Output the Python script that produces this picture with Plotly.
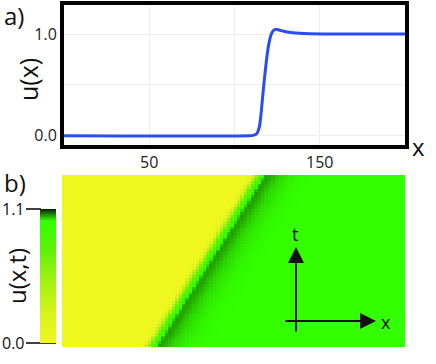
import numpy as np
import plotly.graph_objects as go

# profile u(x) at the final time (panel a)
x_prof = [0, 108, 111, 113, 114.6, 115.6, 116.6, 117.6, 118.6, 119.6, 120.6, 121.6,
          122.6, 123.8, 126, 129, 132, 138, 144, 160, 200]
u_prof = [0, 0, 0.005, 0.02, 0.09, 0.22, 0.40, 0.57, 0.72, 0.85, 0.94, 1.0,
          1.03, 1.046, 1.04, 1.027, 1.017, 1.008, 1.003, 1.0, 1.0]

# front position (mid-rise) at first and last time (panel b)
front_t = [0.0, 1.0]
front_x = [51.0, 113.0]

n_x, n_t = 100, 60
x_cells = np.linspace(1, 199, n_x)
t_cells = np.linspace(0, 1, n_t)

# build the space-time table by shifting the profile along the front
shift = np.interp(t_cells, front_t, front_x) - 117.5
z = np.array([np.interp(x_cells - s, x_prof, u_prof) for s in shift])

cscale = [[0.0, "#eef81e"], [0.2, "#d8f41c"], [0.45, "#a6f214"], [0.7, "#5ef208"],
          [0.88, "#38fc00"], [0.91, "#33ff00"], [0.95, "#22a000"], [1.0, "#0b1a06"]]

W, H = 436, 364
def px(v): return v / W
def py(v): return 1 - v / H

fig = go.Figure()
fig.add_trace(go.Scatter(x=x_prof, y=u_prof, mode="lines", line=dict(color="#2a4cf5", width=3, shape="spline", smoothing=0.6),
                         xaxis="x", yaxis="y", showlegend=False))
fig.add_trace(go.Heatmap(x=x_cells, y=t_cells, z=z, zmin=0, zmax=1.1, colorscale=cscale,
                         xaxis="x2", yaxis="y2",
                         colorbar=dict(x=px(40), xanchor="left", xref="paper", y=py(276), yanchor="middle",
                                       len=134, lenmode="pixels", thickness=16, thicknessmode="pixels",
                                       outlinewidth=0, showticklabels=False, ticks="", xpad=0, ypad=0)))

font = "Open Sans"
fig.update_layout(
    width=W, height=H, margin=dict(l=0, r=0, t=0, b=0),
    paper_bgcolor="white", plot_bgcolor="white",
    font=dict(family=font, color="#222"),
    xaxis=dict(domain=[px(64), px(405)], range=[0, 200], tickvals=[50, 100, 150], ticktext=["50", "", "150"],
               showgrid=True, gridcolor="#eeeeee", gridwidth=1, zeroline=False,
               showline=True, linecolor="black", linewidth=4, mirror=True, ticks="",
               tickfont=dict(size=16)),
    yaxis=dict(domain=[py(145), py(5)], range=[-0.09, 1.285], tickvals=[0, 0.5, 1], ticktext=["0.0", "", "1.0"],
               showgrid=True, gridcolor="#eeeeee", gridwidth=1, zeroline=False,
               showline=True, linecolor="black", linewidth=4, mirror=True, ticks="",
               tickfont=dict(size=16)),
    xaxis2=dict(domain=[px(62), px(405)], range=[0, 200], visible=False, anchor="y2"),
    yaxis2=dict(domain=[py(347), py(175)], range=[-0.5 / (n_t - 1), 1 + 0.5 / (n_t - 1)], visible=False, anchor="x2"),
)

ann = [
    dict(text="a)", x=px(2), y=py(16), size=24, ang=0),
    dict(text="u(x)", x=px(28), y=py(80), size=25, ang=-90),
    dict(text="x", x=px(418), y=py(146), size=24, ang=0),
    dict(text="b)", x=px(2), y=py(182), size=24, ang=0),
    dict(text="u(x,t)", x=px(16), y=py(276), size=24, ang=-90),
    dict(text="1.1", x=px(13), y=py(209), size=16, ang=0),
    dict(text="0.0", x=px(13), y=py(343), size=16, ang=0),
    dict(text="t", x=px(295), y=py(234), size=18, ang=0),
    dict(text="x", x=px(386), y=py(322), size=18, ang=0),
]
for a in ann:
    fig.add_annotation(text=a["text"], x=a["x"], y=a["y"], xref="paper", yref="paper", showarrow=False,
                       textangle=a["ang"], font=dict(size=a["size"], color="#111", family=font),
                       xanchor="left" if a["text"] in ("a)", "b)") else "center", yanchor="middle")

# colorbar tick lines
fig.add_shape(type="line", xref="paper", yref="paper", x0=px(26), x1=px(41), y0=py(209), y1=py(209),
              line=dict(color="black", width=1.5))
fig.add_shape(type="line", xref="paper", yref="paper", x0=px(26), x1=px(56), y0=py(343), y1=py(343),
              line=dict(color="black", width=1.5))

# t / x direction arrows
fig.add_annotation(x=px(296), y=py(247), xref="paper", yref="paper", ax=0, ay=86, axref="pixel", ayref="pixel",
                   showarrow=True, arrowhead=2, arrowsize=1.6, arrowwidth=2, arrowcolor="#111", text="")
fig.add_annotation(x=px(376), y=py(321), xref="paper", yref="paper", ax=-92, ay=0, axref="pixel", ayref="pixel",
                   showarrow=True, arrowhead=2, arrowsize=1.6, arrowwidth=2, arrowcolor="#111", text="")

fig.write_html("out.html", config={"displayModeBar": False}, post_script="document.body.style.margin='0';")
